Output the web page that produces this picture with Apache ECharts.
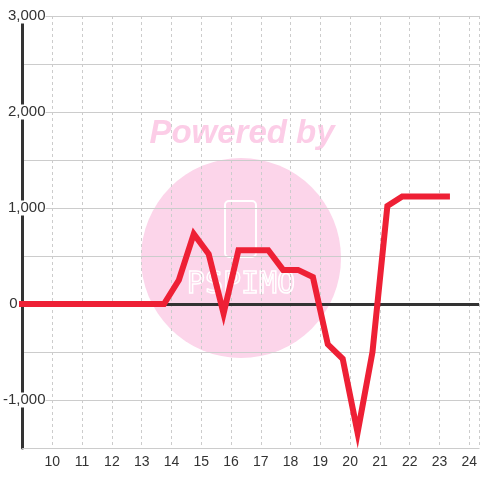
<!DOCTYPE html>
<html>
<head>
<meta charset="utf-8">
<script src="https://cdn.jsdelivr.net/npm/echarts@6/dist/echarts.min.js"></script>
<style>
  html, body { margin: 0; padding: 0; background: #fff; }
  #chart { width: 480px; height: 480px; }
</style>
</head>
<body>
<div id="chart"></div>
<script>
// x positions (hours) and values
var hours = [8.75, 9.25, 9.75, 10.25, 10.75, 11.25, 11.75, 12.25, 12.75, 13.25, 13.75,
  14.25, 14.75, 15.25, 15.75, 16.25, 16.75, 17.25, 17.75, 18.25, 18.75,
  19.25, 19.75, 20.25, 20.75, 21.25, 21.75, 22.25, 22.75, 23.25]
var values = [0, 0, 0, 0, 0, 0, 0, 0, 0, 0, 0,
  250, 730, 520, -100, 560, 560, 560, 355, 355, 280,
  -420, -570, -1340, -500, 1020, 1120, 1120, 1120, 1120]
var yLabelValues = [-1000, 0, 1000, 2000, 3000]

var chart = echarts.init(document.getElementById('chart'))

var points = hours.map(function (h, i) { return [h, values[i]] })

var option = {
  animation: false,
  backgroundColor: '#fff',
  textStyle: { fontFamily: 'Liberation Sans, Arial, sans-serif' },
  grid: { left: 20, right: 0, top: 16, bottom: 32, containLabel: false },
  // watermark behind the plot
  graphic: [
    {
      type: 'circle',
      z: -10,
      silent: true,
      shape: { cx: 241, cy: 258, r: 100 },
      style: { fill: '#fcd5ea' }
    },
    {
      type: 'text',
      z: -10,
      silent: true,
      x: 242,
      y: 134,
      style: {
        text: 'Powered by',
        fill: '#fccde7',
        font: 'italic bold 33px Liberation Sans, Arial, sans-serif',
        align: 'center',
        verticalAlign: 'middle'
      }
    },
    {
      type: 'rect',
      z: -9,
      silent: true,
      shape: { x: 225, y: 201, width: 31, height: 56, r: 4 },
      style: { fill: 'none', stroke: '#fff', lineWidth: 2 }
    },
    {
      type: 'text',
      z: -9,
      silent: true,
      x: 241,
      y: 285,
      style: {
        text: 'PSPIMO',
        fill: 'none',
        stroke: '#fff',
        lineWidth: 1.5,
        font: '30px DejaVu Sans Mono, monospace',
        align: 'center',
        verticalAlign: 'middle'
      }
    }
  ],
  xAxis: {
    type: 'value',
    min: 9,
    max: 24.33,
    interval: 1,
    axisLine: { show: true, onZero: false, lineStyle: { color: '#ccc', width: 1 } },
    axisTick: { show: false },
    axisLabel: {
      color: '#333',
      fontSize: 14,
      margin: 7,
      showMinLabel: false,
      showMaxLabel: false,
      formatter: function (v) {
        return (v >= 10 && Math.round(v) === v) ? String(v) : ''
      }
    },
    splitLine: { show: true, lineStyle: { color: '#ccc', type: [3, 3], width: 1 } }
  },
  yAxis: {
    type: 'value',
    min: -1500,
    max: 3000,
    interval: 500,
    axisLine: { show: true, lineStyle: { color: '#333', width: 3 } },
    axisTick: { show: false },
    axisLabel: {
      color: '#333',
      fontSize: 15,
      margin: -23,
      formatter: function (v) {
        if (yLabelValues.indexOf(v) < 0) return ''
        if (v === 0) return '{z|0}'
        return '{n|' + v.toLocaleString('en-US') + '}'
      },
      rich: {
        n: { color: '#333', fontSize: 15, backgroundColor: '#fff' },
        z: { color: '#333', fontSize: 15, padding: [0, 28, 0, 0] }
      }
    },
    splitLine: { show: true, lineStyle: { color: '#ccc', width: 1 } }
  },
  series: [
    {
      type: 'line',
      z: 1,
      data: [],
      markLine: {
        silent: true,
        symbol: 'none',
        label: { show: false },
        lineStyle: { color: '#333', width: 3, type: 'solid' },
        data: [{ yAxis: 0 }]
      }
    },
    {
      type: 'line',
      z: 5,
      data: points,
      symbol: 'none',
      clip: true,
      lineStyle: { color: '#ee2035', width: 6, join: 'miter', cap: 'square' }
    }
  ]
}

chart.setOption(option)
</script>
</body>
</html>
